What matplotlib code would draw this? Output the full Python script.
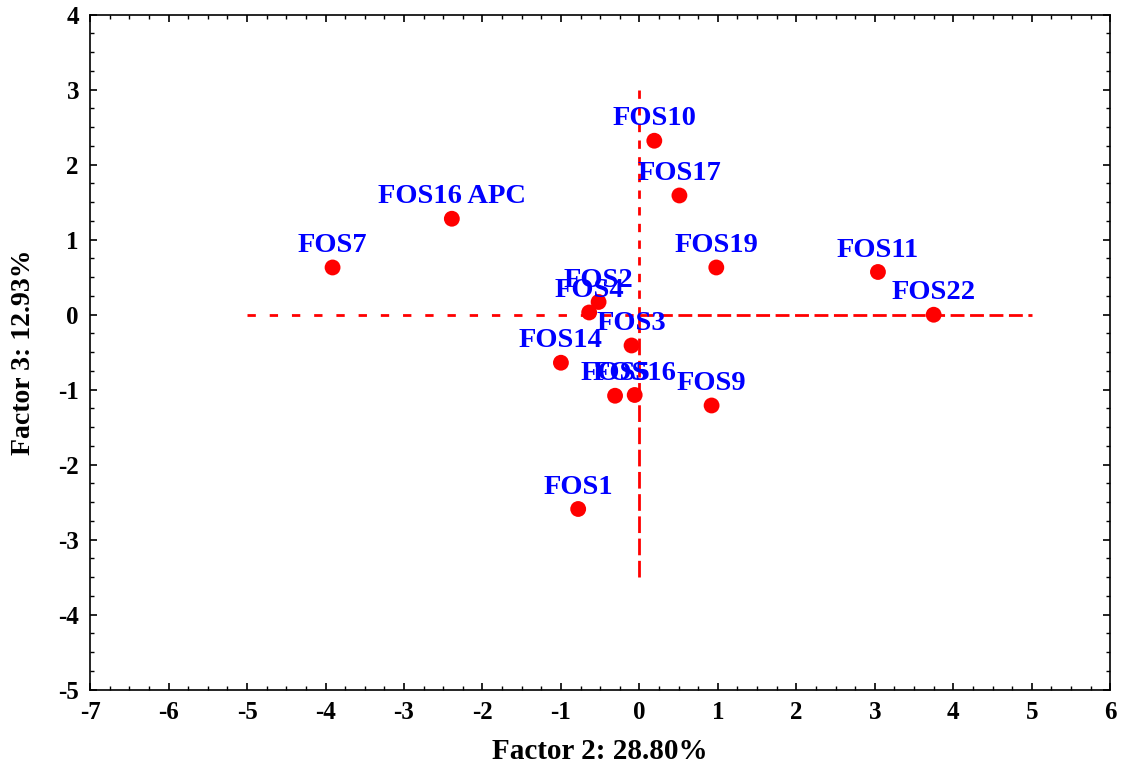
import matplotlib.pyplot as plt
from matplotlib.ticker import MultipleLocator

# scores on factor 2 and factor 3
names = ["FOS7", "FOS16 APC", "FOS10", "FOS17", "FOS19", "FOS11", "FOS22",
         "FOS2", "FOS4", "FOS3", "FOS14", "FOS5", "FOS16", "FOS9", "FOS1"]
factor2 = [-3.91, -2.39, 0.19, 0.51, 0.98, 3.04, 3.75,
           -0.52, -0.64, -0.10, -1.00, -0.31, -0.06, 0.92, -0.78]
factor3 = [0.63, 1.28, 2.32, 1.59, 0.63, 0.57, 0.00,
           0.17, 0.03, -0.41, -0.64, -1.08, -1.07, -1.21, -2.59]

plt.rcParams["font.family"] = ["Liberation Serif", "DejaVu Serif"]
plt.rcParams["font.weight"] = "bold"
plt.rcParams["axes.unicode_minus"] = False

fig = plt.figure(figsize=(11.26, 7.75), dpi=100)
ax = fig.add_axes([0.08, 0.11, 0.906, 0.871])

# reference lines through the origin
ax.plot([-5, 0], [0, 0], color="red", lw=2, dashes=(3, 5), zorder=1)
ax.plot([0, 5], [0, 0], color="red", lw=2, dashes=(5, 2), zorder=1)
ax.plot([0, 0], [0, 3], color="red", lw=2, dashes=(3, 3), zorder=1)
ax.plot([0, 0], [-3.5, 0], color="red", lw=2, dashes=(6, 2), zorder=1)

ax.scatter(factor2, factor3, s=130, color="red", edgecolors="none", zorder=3)
for name, x, y in zip(names, factor2, factor3):
    ax.annotate(name, (x, y), xytext=(0, 11), textcoords="offset points",
                ha="center", va="baseline", color="blue", fontsize=20.5,
                fontweight="bold", zorder=4)

ax.set_xlim(-7, 6)
ax.set_ylim(-5, 4)
ax.xaxis.set_major_locator(MultipleLocator(1))
ax.yaxis.set_major_locator(MultipleLocator(1))
ax.xaxis.set_minor_locator(MultipleLocator(0.25))
ax.yaxis.set_minor_locator(MultipleLocator(0.25))
ax.tick_params(which="both", direction="in", top=True, right=True,
               labelsize=18, color="black", pad=8)
ax.tick_params(which="major", length=5, width=1.2)
ax.tick_params(which="minor", length=3, width=1)
for spine in ax.spines.values():
    spine.set_linewidth(1.2)

ax.set_xlabel("Factor 2: 28.80%", fontsize=21, fontweight="bold", labelpad=10)
ax.set_ylabel("Factor 3: 12.93%", fontsize=20, fontweight="bold", labelpad=16)

fig.savefig("out.png", dpi=100)
